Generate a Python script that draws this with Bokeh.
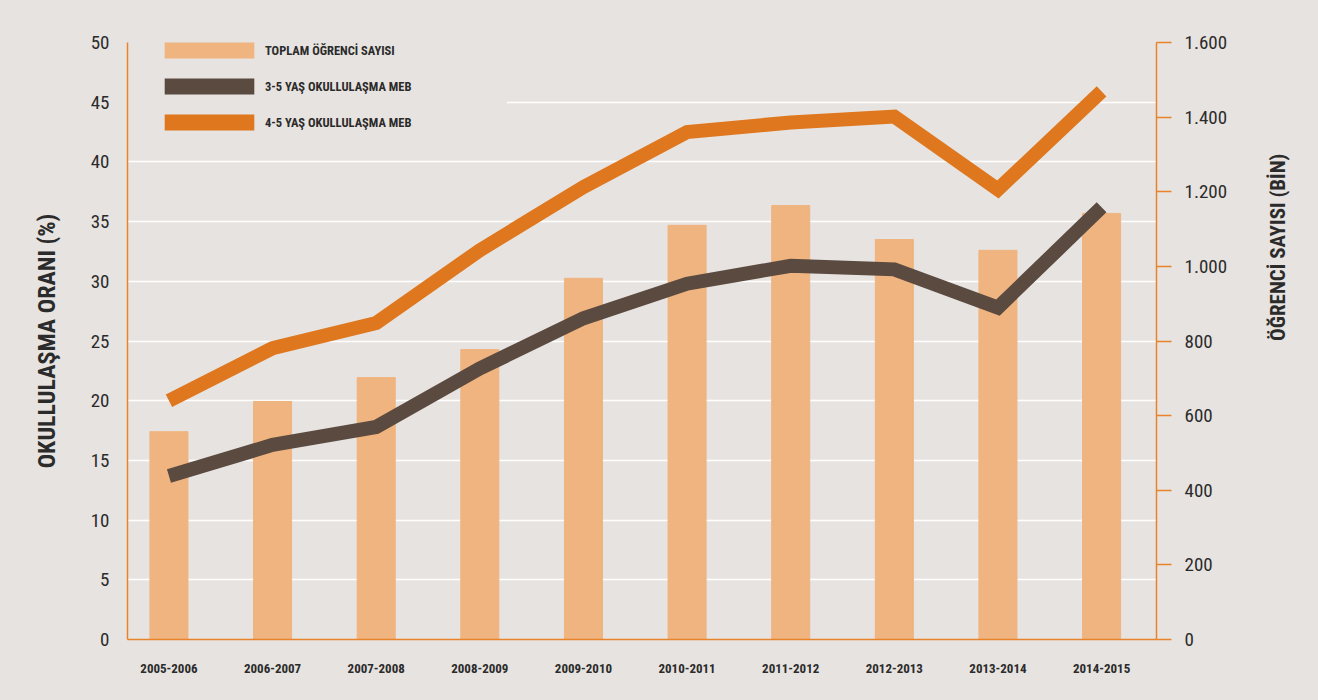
import math
from bokeh.plotting import figure
from bokeh.models import (Range1d, LinearAxis, FixedTicker, Legend, LegendItem,
                          BoxAnnotation, ColumnDataSource)
from bokeh.embed import file_html
from bokeh.resources import INLINE

years = ["2005-2006", "2006-2007", "2007-2008", "2008-2009", "2009-2010",
         "2010-2011", "2011-2012", "2012-2013", "2013-2014", "2014-2015"]
ogrenci = [557, 638, 702, 777, 968, 1110, 1163, 1072, 1043, 1142]
okul_3_5 = [13.7, 16.3, 17.8, 22.7, 26.9, 29.8, 31.3, 31.0, 27.8, 36.2]
okul_4_5 = [20.0, 24.4, 26.5, 32.6, 37.9, 42.5, 43.3, 43.8, 37.7, 45.9]
left_ticks = [0, 5, 10, 15, 20, 25, 30, 35, 40, 45, 50]
right_ticks = [0, 200, 400, 600, 800, 1000, 1200, 1400, 1600]
right_labels = ["0", "200", "400", "600", "800", "1.000", "1.200", "1.400", "1.600"]
left_title = "OKULLULAŞMA ORANI (%)"
right_title = "ÖĞRENCİ SAYISI (BİN)"

BG = "#E7E3E0"
BAR = "#EFB47F"
ORANGE = "#DF771E"
BROWN = "#5A4A40"
AXIS = "#E8832A"
TXT = "#2B2B2B"
FONT = "Roboto Condensed, DejaVu Sans Condensed, Liberation Sans Narrow, Roboto, sans-serif"

idx = list(range(len(years)))
src = ColumnDataSource(dict(x=idx, ogr=ogrenci, a=okul_3_5, b=okul_4_5))

p = figure(width=1310, height=692, output_backend="svg", toolbar_location=None,
           x_range=Range1d(-0.4, 9.53), y_range=Range1d(0, 50),
           min_border_left=127, min_border_right=154, min_border_top=42,
           min_border_bottom=53, background_fill_color=BG, border_fill_color=BG,
           outline_line_color=None)
p.extra_y_ranges = {"r": Range1d(0, 1600)}

# background patch behind legend (hides gridlines there)
p.add_layout(BoxAnnotation(left=-0.4, right=3.26, bottom=41.8, top=51, level="underlay",
                           fill_color=BG, fill_alpha=1, line_alpha=0))

bars = p.vbar(x="x", top="ogr", width=0.367, source=src, color=BAR, y_range_name="r")
l45 = p.line(x="x", y="b", source=src, line_color=ORANGE, line_width=14, line_join="miter")
l35 = p.line(x="x", y="a", source=src, line_color=BROWN, line_width=14, line_join="miter")

# legend swatches (renderers without visible geometry, used only for the legend)
nan = float("nan")
empty = ColumnDataSource(dict(l=[nan], r=[nan], t=[nan], b=[nan]))
sw_bar = p.quad(left="l", right="r", top="t", bottom="b", source=empty,
                fill_color=BAR, line_color=None)
sw_35 = p.quad(left="l", right="r", top="t", bottom="b", source=empty,
               fill_color=BROWN, line_color=None)
sw_45 = p.quad(left="l", right="r", top="t", bottom="b", source=empty,
               fill_color=ORANGE, line_color=None)

# grid
p.xgrid.visible = False
p.ygrid.ticker = FixedTicker(ticks=left_ticks)
p.ygrid.grid_line_color = "white"
p.ygrid.grid_line_width = 1.5

# left axis
ya = p.yaxis[0]
ya.ticker = FixedTicker(ticks=left_ticks)
ya.axis_line_color = AXIS
ya.axis_line_width = 1.5
ya.major_tick_line_color = None
ya.minor_tick_line_color = None
ya.major_label_standoff = 12
ya.major_label_text_font = FONT
ya.major_label_text_font_size = "19px"
ya.major_label_text_color = TXT
ya.axis_label = left_title
ya.axis_label_text_font = FONT
ya.axis_label_text_font_size = "24px"
ya.axis_label_text_font_style = "bold"
ya.axis_label_text_color = TXT
ya.axis_label_standoff = 27

# right axis
ra = LinearAxis(y_range_name="r", ticker=FixedTicker(ticks=right_ticks),
                major_label_overrides={t: l for t, l in zip(right_ticks, right_labels)})
ra.axis_line_color = AXIS
ra.axis_line_width = 1.5
ra.major_tick_line_color = AXIS
ra.major_tick_line_width = 1.5
ra.major_tick_out = 15
ra.major_tick_in = 0
ra.minor_tick_line_color = None
ra.major_label_standoff = 13
ra.major_label_text_font = FONT
ra.major_label_text_font_size = "19px"
ra.major_label_text_color = TXT
p.add_layout(ra, "right")

# right title: a tick-less axis whose label reads bottom-to-top
rt = LinearAxis(y_range_name="r", ticker=FixedTicker(ticks=[]))
rt.axis_line_color = None
rt.major_tick_line_color = None
rt.minor_tick_line_color = None
rt.axis_label = right_title
rt.axis_label_text_font = FONT
rt.axis_label_text_font_size = "21px"
rt.axis_label_text_font_style = "bold"
rt.axis_label_text_color = TXT
rt.axis_label_standoff = 47
rt.axis_label_orientation = math.pi / 2
p.add_layout(rt, "right")

# bottom axis
xa = p.xaxis[0]
xa.ticker = FixedTicker(ticks=idx)
xa.major_label_overrides = {i: y for i, y in zip(idx, years)}
xa.axis_line_color = AXIS
xa.axis_line_width = 1.5
xa.major_tick_line_color = None
xa.minor_tick_line_color = None
xa.major_label_standoff = 18
xa.major_label_text_font = FONT
xa.major_label_text_font_size = "13px"
xa.major_label_text_font_style = "bold"
xa.major_label_text_color = TXT

legend = Legend(items=[
    LegendItem(label="TOPLAM ÖĞRENCİ SAYISI", renderers=[sw_bar]),
    LegendItem(label="3-5 YAŞ OKULLULAŞMA MEB", renderers=[sw_35]),
    LegendItem(label="4-5 YAŞ OKULLULAŞMA MEB", renderers=[sw_45]),
], location=(26, 507), orientation="vertical", glyph_width=112, glyph_height=20,
    spacing=16, padding=0, margin=0, label_standoff=0,
    label_text_font=FONT, label_text_font_size="12.5px", label_text_font_style="bold",
    label_text_color=TXT, border_line_color=None, background_fill_alpha=0)
p.add_layout(legend, "center")

html = file_html(p, INLINE)
html = html.replace("<body>", '<body style="background-color:%s;">' % BG)
open("out.html", "w").write(html)
